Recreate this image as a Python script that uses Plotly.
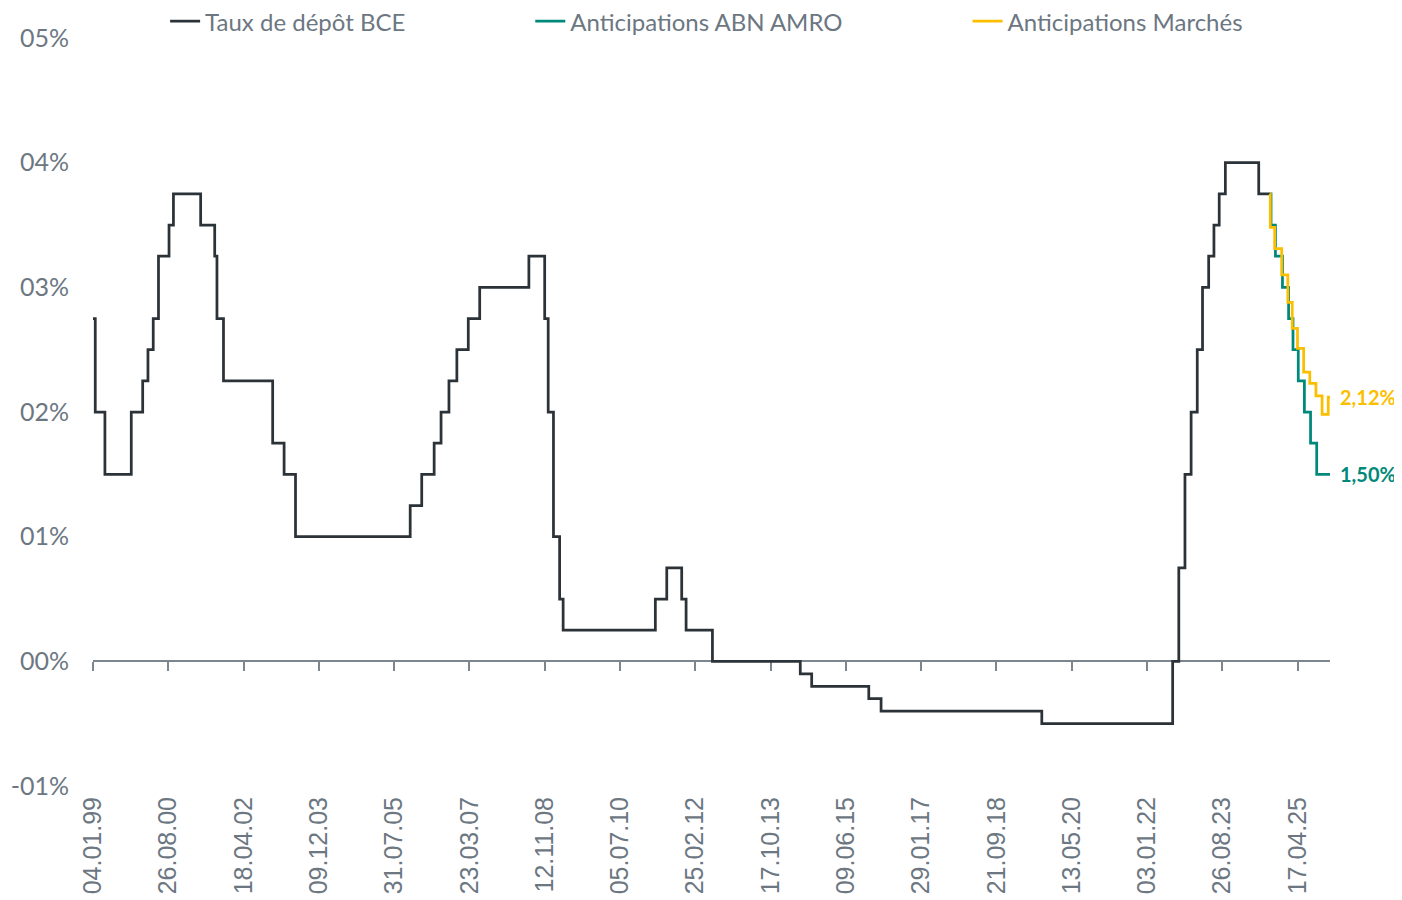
import plotly.graph_objects as go

bce_dates = ["1999-01-04", "1999-01-22", "1999-04-09", "1999-11-05", "2000-02-04", "2000-03-17",
             "2000-04-28", "2000-06-09", "2000-09-01", "2000-10-06", "2001-05-11", "2001-08-31",
             "2001-09-18", "2001-11-09", "2002-12-06", "2003-03-07", "2003-06-06", "2005-12-06",
             "2006-03-08", "2006-06-15", "2006-08-09", "2006-10-11", "2006-12-13", "2007-03-14",
             "2007-06-13", "2008-07-09", "2008-11-12", "2008-12-10", "2009-01-21", "2009-03-11",
             "2009-04-08", "2011-04-13", "2011-07-13", "2011-11-09", "2011-12-14", "2012-07-11",
             "2014-06-11", "2014-09-10", "2015-12-09", "2016-03-16", "2019-09-18", "2022-07-27",
             "2022-09-14", "2022-11-02", "2022-12-21", "2023-02-08", "2023-03-22", "2023-05-10",
             "2023-06-21", "2023-08-02", "2023-09-20", "2024-06-12", "2024-09-11"]
bce_rates = [2.75, 2.00, 1.50, 2.00, 2.25, 2.50,
             2.75, 3.25, 3.50, 3.75, 3.50, 3.25,
             2.75, 2.25, 1.75, 1.50, 1.00, 1.25,
             1.50, 1.75, 2.00, 2.25, 2.50, 2.75,
             3.00, 3.25, 2.75, 2.00, 1.00, 0.50,
             0.25, 0.50, 0.75, 0.50, 0.25, 0.00,
             -0.10, -0.20, -0.30, -0.40, -0.50, 0.00,
             0.75, 1.50, 2.00, 2.50, 3.00, 3.25,
             3.50, 3.75, 4.00, 3.75, 3.75]

abn_dates = ["2024-09-11", "2024-09-18", "2024-10-23", "2024-12-18", "2025-02-05", "2025-03-12",
             "2025-04-23", "2025-06-11", "2025-07-30", "2025-09-17", "2026-01-01"]
abn_rates = [3.75, 3.50, 3.25, 3.00, 2.75, 2.50, 2.25, 2.00, 1.75, 1.50, 1.50]

mkt_dates = ["2024-09-11", "2024-09-12", "2024-10-17", "2024-12-12", "2025-01-30", "2025-03-06",
             "2025-04-17", "2025-06-05", "2025-07-24", "2025-09-11", "2025-10-30", "2025-12-18",
             "2026-01-01"]
mkt_rates = [3.75, 3.48, 3.31, 3.10, 2.88, 2.67, 2.51, 2.32, 2.23, 2.13, 1.98, 2.12, 2.12]

y_ticks = [-1, 0, 1, 2, 3, 4, 5]
y_labels = ["-01%", "00%", "01%", "02%", "03%", "04%", "05%"]

names = ["Taux de dépôt BCE", "Anticipations ABN AMRO", "Anticipations Marchés"]

BLACK = "#2b3238"
TEAL = "#00897b"
GOLD = "#fbbf00"
GREY = "#6c7782"
AXIS = "#7d868e"
FONT = "Lato"

fig = go.Figure()
# empty trace so the zero-line axis (x2) gets drawn
fig.add_trace(go.Scatter(x=[bce_dates[0]], y=[None], xaxis="x2", mode="lines",
                         showlegend=False, hoverinfo="skip"))
fig.add_trace(go.Scatter(x=bce_dates, y=bce_rates, mode="lines", name=names[0], showlegend=True,
                         line=dict(color=BLACK, width=2.75, shape="hv"), legend="legend"))
fig.add_trace(go.Scatter(x=abn_dates, y=abn_rates, mode="lines", name=names[1], showlegend=True,
                         line=dict(color=TEAL, width=2.75, shape="hv"), legend="legend2"))
fig.add_trace(go.Scatter(x=mkt_dates, y=mkt_rates, mode="lines", name=names[2], showlegend=True,
                         line=dict(color=GOLD, width=2.75, shape="hv"), legend="legend3"))

def lbl(v):
    return ("%.2f" % v).replace(".", ",") + "%"

fig.add_annotation(x=mkt_dates[-1], y=mkt_rates[-1], text="<b>" + lbl(mkt_rates[-1]) + "</b>",
                   showarrow=False, xanchor="left", yanchor="middle", xshift=8,
                   font=dict(family=FONT, size=20, color=GOLD))
fig.add_annotation(x=abn_dates[-1], y=abn_rates[-1], text="<b>" + lbl(abn_rates[-1]) + "</b>",
                   showarrow=False, xanchor="left", yanchor="middle", xshift=8,
                   font=dict(family=FONT, size=20, color=TEAL))

day = 24 * 3600 * 1000
leg = dict(orientation="h", yanchor="middle", xanchor="left", y=1.022,
           bgcolor="rgba(0,0,0,0)", font=dict(family=FONT, size=24, color=GREY))

# page body adds an 8px margin, so the figure is 8px smaller than the window
fig.update_layout(
    width=1394, height=892,
    showlegend=True,
    margin=dict(l=85, r=72, t=30, b=114, autoexpand=False),
    plot_bgcolor="white", paper_bgcolor="white",
    font=dict(family=FONT, color=GREY),
    legend=dict(leg, x=0.0583),
    legend2=dict(leg, x=0.3535),
    legend3=dict(leg, x=0.707),
    xaxis=dict(type="date", range=["1999-01-04", "2026-01-01"], tick0="1999-01-04", dtick=600 * day,
               tickformat="%d.%m.%y", tickangle=-90, showgrid=False, zeroline=False, showline=False,
               ticks="", ticklabelstandoff=5, automargin=False,
               tickfont=dict(family="Liberation Sans", size=25, color=GREY)),
    xaxis2=dict(type="date", overlaying="x", matches="x", anchor="free", position=1 / 6,
                tick0="1999-01-04", dtick=600 * day, showticklabels=False, showgrid=False,
                zeroline=False, showline=True, linecolor=AXIS, linewidth=1.5,
                ticks="outside", ticklen=9, tickwidth=1.5, tickcolor=AXIS, layer="below traces"),
    yaxis=dict(range=[-1, 5], tickvals=y_ticks, ticktext=y_labels, showgrid=False,
               zeroline=False, showline=False, ticks="", ticklabelstandoff=23, automargin=False,
               tickfont=dict(family=FONT, size=25, color=GREY)),
)

fig.write_html("out.html")
